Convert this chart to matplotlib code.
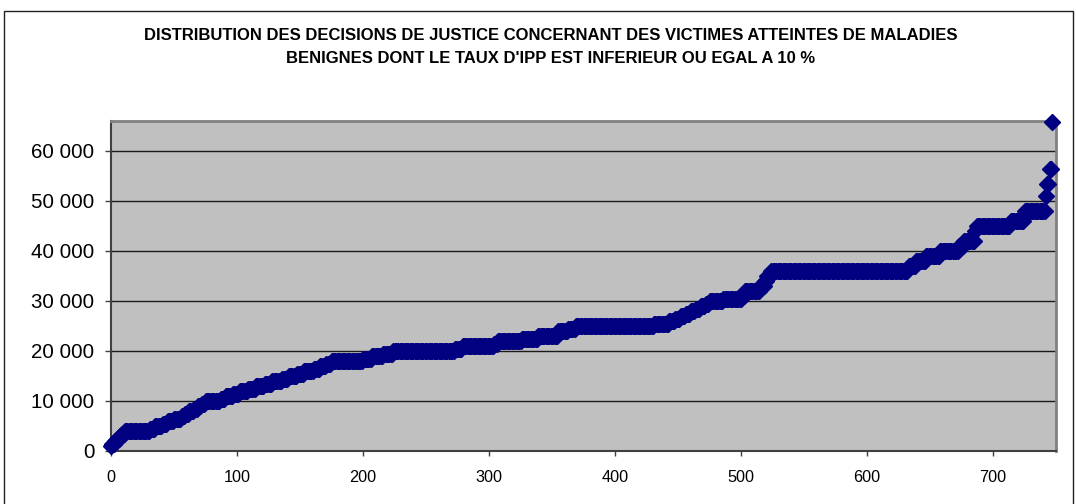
import numpy as np
import matplotlib
matplotlib.use("Agg")
import matplotlib.pyplot as plt
from matplotlib.patches import Rectangle
from matplotlib.ticker import FuncFormatter

plt.rcParams['font.family'] = ['Liberation Sans', 'DejaVu Sans']

# amounts awarded (euros), sorted, with the number of decisions at each level
levels = [1000, 1500, 2000, 2500, 3000, 3500, 4000, 4500, 5000, 5500,
          6000, 6500, 7000, 7500, 8000, 8500, 9000, 9500, 10000, 10500,
          11000, 11500, 12000, 12500, 13000, 13500, 14000, 14500, 15000, 15500,
          16000, 16500, 17000, 17500, 18000, 18500, 19000, 19500, 20000, 20500,
          21000, 21500, 22000, 22500, 23000, 24000, 24500, 25000, 25500, 26000,
          26500, 27000, 27500, 28000, 28500, 29000, 29500, 30000, 30500, 31000,
          32000, 33000, 34000, 35000, 36000, 37000, 38000, 39000, 40000, 41000,
          42000, 44000, 45000, 46000, 48000, 51000, 53500, 56500, 65800]
counts = [1, 2, 2, 2, 2, 2, 20, 4, 6, 4,
          5, 6, 3, 3, 4, 3, 3, 3, 12, 4,
          6, 5, 7, 6, 7, 6, 8, 5, 7, 5,
          8, 5, 5, 4, 25, 7, 9, 8, 49, 6,
          25, 3, 19, 13, 16, 8, 6, 62, 12, 5,
          4, 4, 4, 4, 4, 4, 3, 11, 15, 2,
          12, 4, 2, 3, 109, 6, 8, 11, 15, 4,
          9, 1, 27, 11, 17, 1, 2, 2, 1]

title = ("DISTRIBUTION DES DECISIONS DE JUSTICE CONCERNANT DES VICTIMES ATTEINTES DE MALADIES\n"
         "BENIGNES DONT LE TAUX D'IPP EST INFERIEUR OU EGAL A 10 %")

amounts = np.repeat(levels, counts)
rank = np.arange(len(amounts))

W, H = 1076, 504
fig = plt.figure(figsize=(W / 100, H / 100), dpi=100)

# outer chart frame
fig.patches.append(Rectangle((4 / W, -0.01), 1069 / W, (H - 10.5) / H + 0.01,
                             transform=fig.transFigure, fill=False,
                             edgecolor='#202020', linewidth=1.0))

ax = fig.add_axes([111 / W, 53 / H, 945 / W, 330 / H])
ax.set_facecolor('#C0C0C0')
ax.plot(rank, amounts, linestyle='none', marker='D', markersize=7.8,
        color='#000080', markeredgecolor='#000080', markeredgewidth=1,
        clip_on=False, zorder=3)

ax.set_xlim(0, 750)
ax.set_ylim(0, 66000)
ax.set_xticks(range(0, 701, 100))
ax.set_yticks(range(0, 60001, 10000))
ax.yaxis.set_major_formatter(FuncFormatter(lambda v, p: f"{int(v):,}".replace(",", " ")))
ax.grid(axis='y', color='#1a1a1a', linewidth=1.0)
ax.set_axisbelow(True)
ax.tick_params(axis='y', direction='out', length=4.3, width=1, color='#404040',
               labelsize=14.8, pad=7.5)
ax.tick_params(axis='x', direction='out', length=3.6, width=1, color='#404040',
               labelsize=11.7, pad=10)
for side in ['left', 'bottom']:
    ax.spines[side].set_color('#404040')
    ax.spines[side].set_linewidth(1.5)
for side in ['top', 'right']:
    ax.spines[side].set_color('#808080')
    ax.spines[side].set_linewidth(2)

fig.text(551 / W, 1 - 47 / H, title, ha='center', va='center', fontsize=12,
         fontweight='bold', linespacing=1.7)

fig.savefig('out.png', dpi=100)
